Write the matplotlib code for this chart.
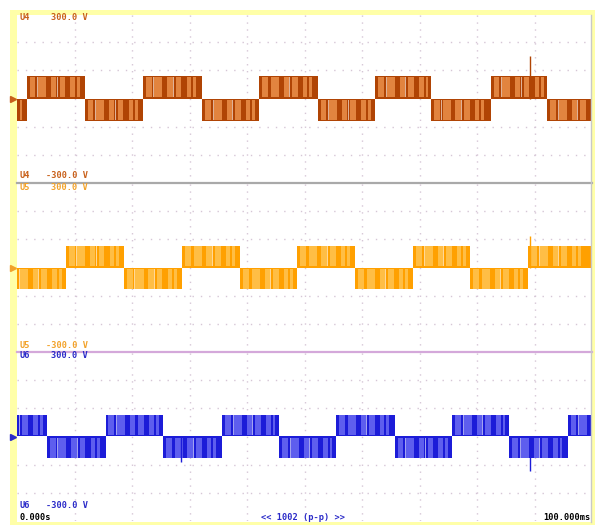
import matplotlib
matplotlib.use("Agg")
import matplotlib.pyplot as plt
from matplotlib.patches import Rectangle

# ---- data -------------------------------------------------------------
time_span = (0.0, 100.0)          # ms, 10 ms / div
volt_span = (-300.0, 300.0)       # V, 100 V / div

channels = ["U4", "U5", "U6"]
top_labels = ["300.0 V", "300.0 V", "300.0 V"]
bottom_labels = ["-300.0 V", "-300.0 V", "-300.0 V"]

# switching instants (ms) of each line voltage and its level before the first edge
u4_edges = [1.7, 11.8, 21.9, 32.2, 42.1, 52.3, 62.3, 72.0, 82.4, 92.2]
u5_edges = [8.5, 18.6, 28.7, 38.8, 48.7, 58.8, 68.9, 78.8, 88.9]
u6_edges = [5.2, 15.4, 25.4, 35.7, 45.6, 55.5, 65.7, 75.7, 85.6, 95.8]
start_sign = [-1, -1, 1]
amplitude = [80.0, 78.0, 78.0]    # V

# isolated switching spikes: (time ms, peak V)
u4_spikes = [(89.2, 150.0)]
u5_spikes = [(89.2, 112.0)]
u6_spikes = [(28.5, -92.0), (89.2, -124.0)]

# PWM pulse texture inside one half cycle: (relative position, width ms, kind)
pwm_texture = [(0.10, 1.0, "l"), (0.19, 0.15, "w"), (0.27, 1.4, "l"), (0.36, 0.2, "d"),
               (0.47, 0.9, "l"), (0.53, 0.15, "w"), (0.63, 1.2, "l"), (0.68, 0.2, "d"),
               (0.80, 0.8, "l"), (0.90, 0.5, "l")]

bottom_left = "0.000s"
bottom_mid = "<< 1002 (p-p) >>"
bottom_right = "100.000ms"

# ---- styling ------------------------------------------------------------
dark = ["#B04404", "#FFA000", "#1C1CD8"]
light = ["#E2843F", "#FFBE45", "#5E5EEE"]
text_col = ["#C8601A", "#F2A22A", "#2A2AC8"]
sep_col = ["#A9A9A9", "#D4A8DA"]
grid_col = "#D6C6D6"

W, H = 595, 525
fig = plt.figure(figsize=(W / 100, H / 100), dpi=100)
fig.patch.set_facecolor("white")


def fx(x):
    return x / W


def fy(y):
    return 1 - y / H


def band(x0, y0, x1, y1, color):
    fig.patches.append(Rectangle((fx(x0), fy(y1)), (x1 - x0) / W, (y1 - y0) / H,
                                 transform=fig.transFigure, color=color, lw=0, zorder=0))


# yellow frame around the screen area
yellow = "#FFFFA8"
band(10, 10, 17, 525, yellow)
band(10, 10, 595, 15, yellow)
band(592, 10, 595, 525, yellow)
band(10, 522, 595, 525, yellow)

left_px, right_px = 17, 592
panel_tops = [14, 183, 352]
panel_h = 169

edges_all = [u4_edges, u5_edges, u6_edges]
spikes_all = [u4_spikes, u5_spikes, u6_spikes]

for i in range(3):
    top = panel_tops[i]
    ax = fig.add_axes([fx(left_px), fy(top + panel_h), (right_px - left_px) / W, panel_h / H])
    ax.set_xlim(*time_span)
    ax.set_ylim(*volt_span)
    ax.set_facecolor("white")
    for s in ax.spines.values():
        s.set_visible(False)
    ax.set_xticks([])
    ax.set_yticks([])

    # dotted graticule
    for k in range(1, 10):
        ax.axvline(k * 10, color=grid_col, lw=1.0, ls=(0, (1, 4)), zorder=1)
    for v in (-200, -100, 100, 200):
        ax.axhline(v, color=grid_col, lw=1.0, ls=(0, (1, 5)), zorder=1)

    # square-wave blocks with PWM texture
    bounds = [time_span[0]] + edges_all[i] + [time_span[1]]
    sign = start_sign[i]
    A = amplitude[i]
    for t0, t1 in zip(bounds[:-1], bounds[1:]):
        lvl = sign * A
        ax.fill_between([t0, t1], 0, lvl, color=dark[i], lw=0, zorder=2)
        half = 10.0
        for pos, wdt, kind in pwm_texture:
            tc = t1 - half + pos * half if t0 == time_span[0] else t0 + pos * half
            if tc - wdt / 2 < t0 or tc + wdt / 2 > t1:
                continue
            c = {"l": light[i], "w": "white", "d": dark[i]}[kind]
            ax.fill_between([tc - wdt / 2, tc + wdt / 2], 0.06 * lvl, 0.96 * lvl,
                            color=c, lw=0, zorder=3 if kind == "l" else 4,
                            alpha=0.6 if kind == "w" else 1.0)
        sign = -sign

    for ts, vp in spikes_all[i]:
        ax.vlines(ts, 0, vp, color=dark[i], lw=1.0, zorder=5)

# zero-level markers on the left edge
for i in range(3):
    yc = panel_tops[i] + panel_h / 2
    fig.add_artist(plt.Line2D([fx(12.5)], [fy(yc)], marker=">", ms=4,
                              color=text_col[i], transform=fig.transFigure))

# separators between channel panels
for j, y in enumerate([183, 352]):
    fig.add_artist(plt.Line2D([fx(left_px), fx(right_px)], [fy(y), fy(y)],
                              color=sep_col[j], lw=1.6, transform=fig.transFigure))
fig.add_artist(plt.Line2D([fx(591), fx(591)], [fy(15), fy(522)],
                          color="#C8C8C8", lw=1.0, transform=fig.transFigure))

# channel scale labels
fkw = dict(family="DejaVu Sans Mono", fontsize=6.2, fontweight="bold", va="center")
for i in range(3):
    top = panel_tops[i]
    fig.text(fx(19), fy(top + 4), channels[i], color=text_col[i], ha="left", **fkw)
    fig.text(fx(88), fy(top + 4), top_labels[i], color=text_col[i], ha="right", **fkw)
    yb = top + panel_h - 7 if i < 2 else 505
    fig.text(fx(19), fy(yb), channels[i], color=text_col[i], ha="left", **fkw)
    fig.text(fx(88), fy(yb), bottom_labels[i], color=text_col[i], ha="right", **fkw)

fig.text(fx(19), fy(518), bottom_left, color="black", ha="left", **fkw)
fig.text(fx(303), fy(518), bottom_mid, color="#2A2AC8", ha="center", **fkw)
fig.text(fx(590), fy(518), bottom_right, color="black", ha="right", **fkw)

fig.savefig("out.png", dpi=100)
